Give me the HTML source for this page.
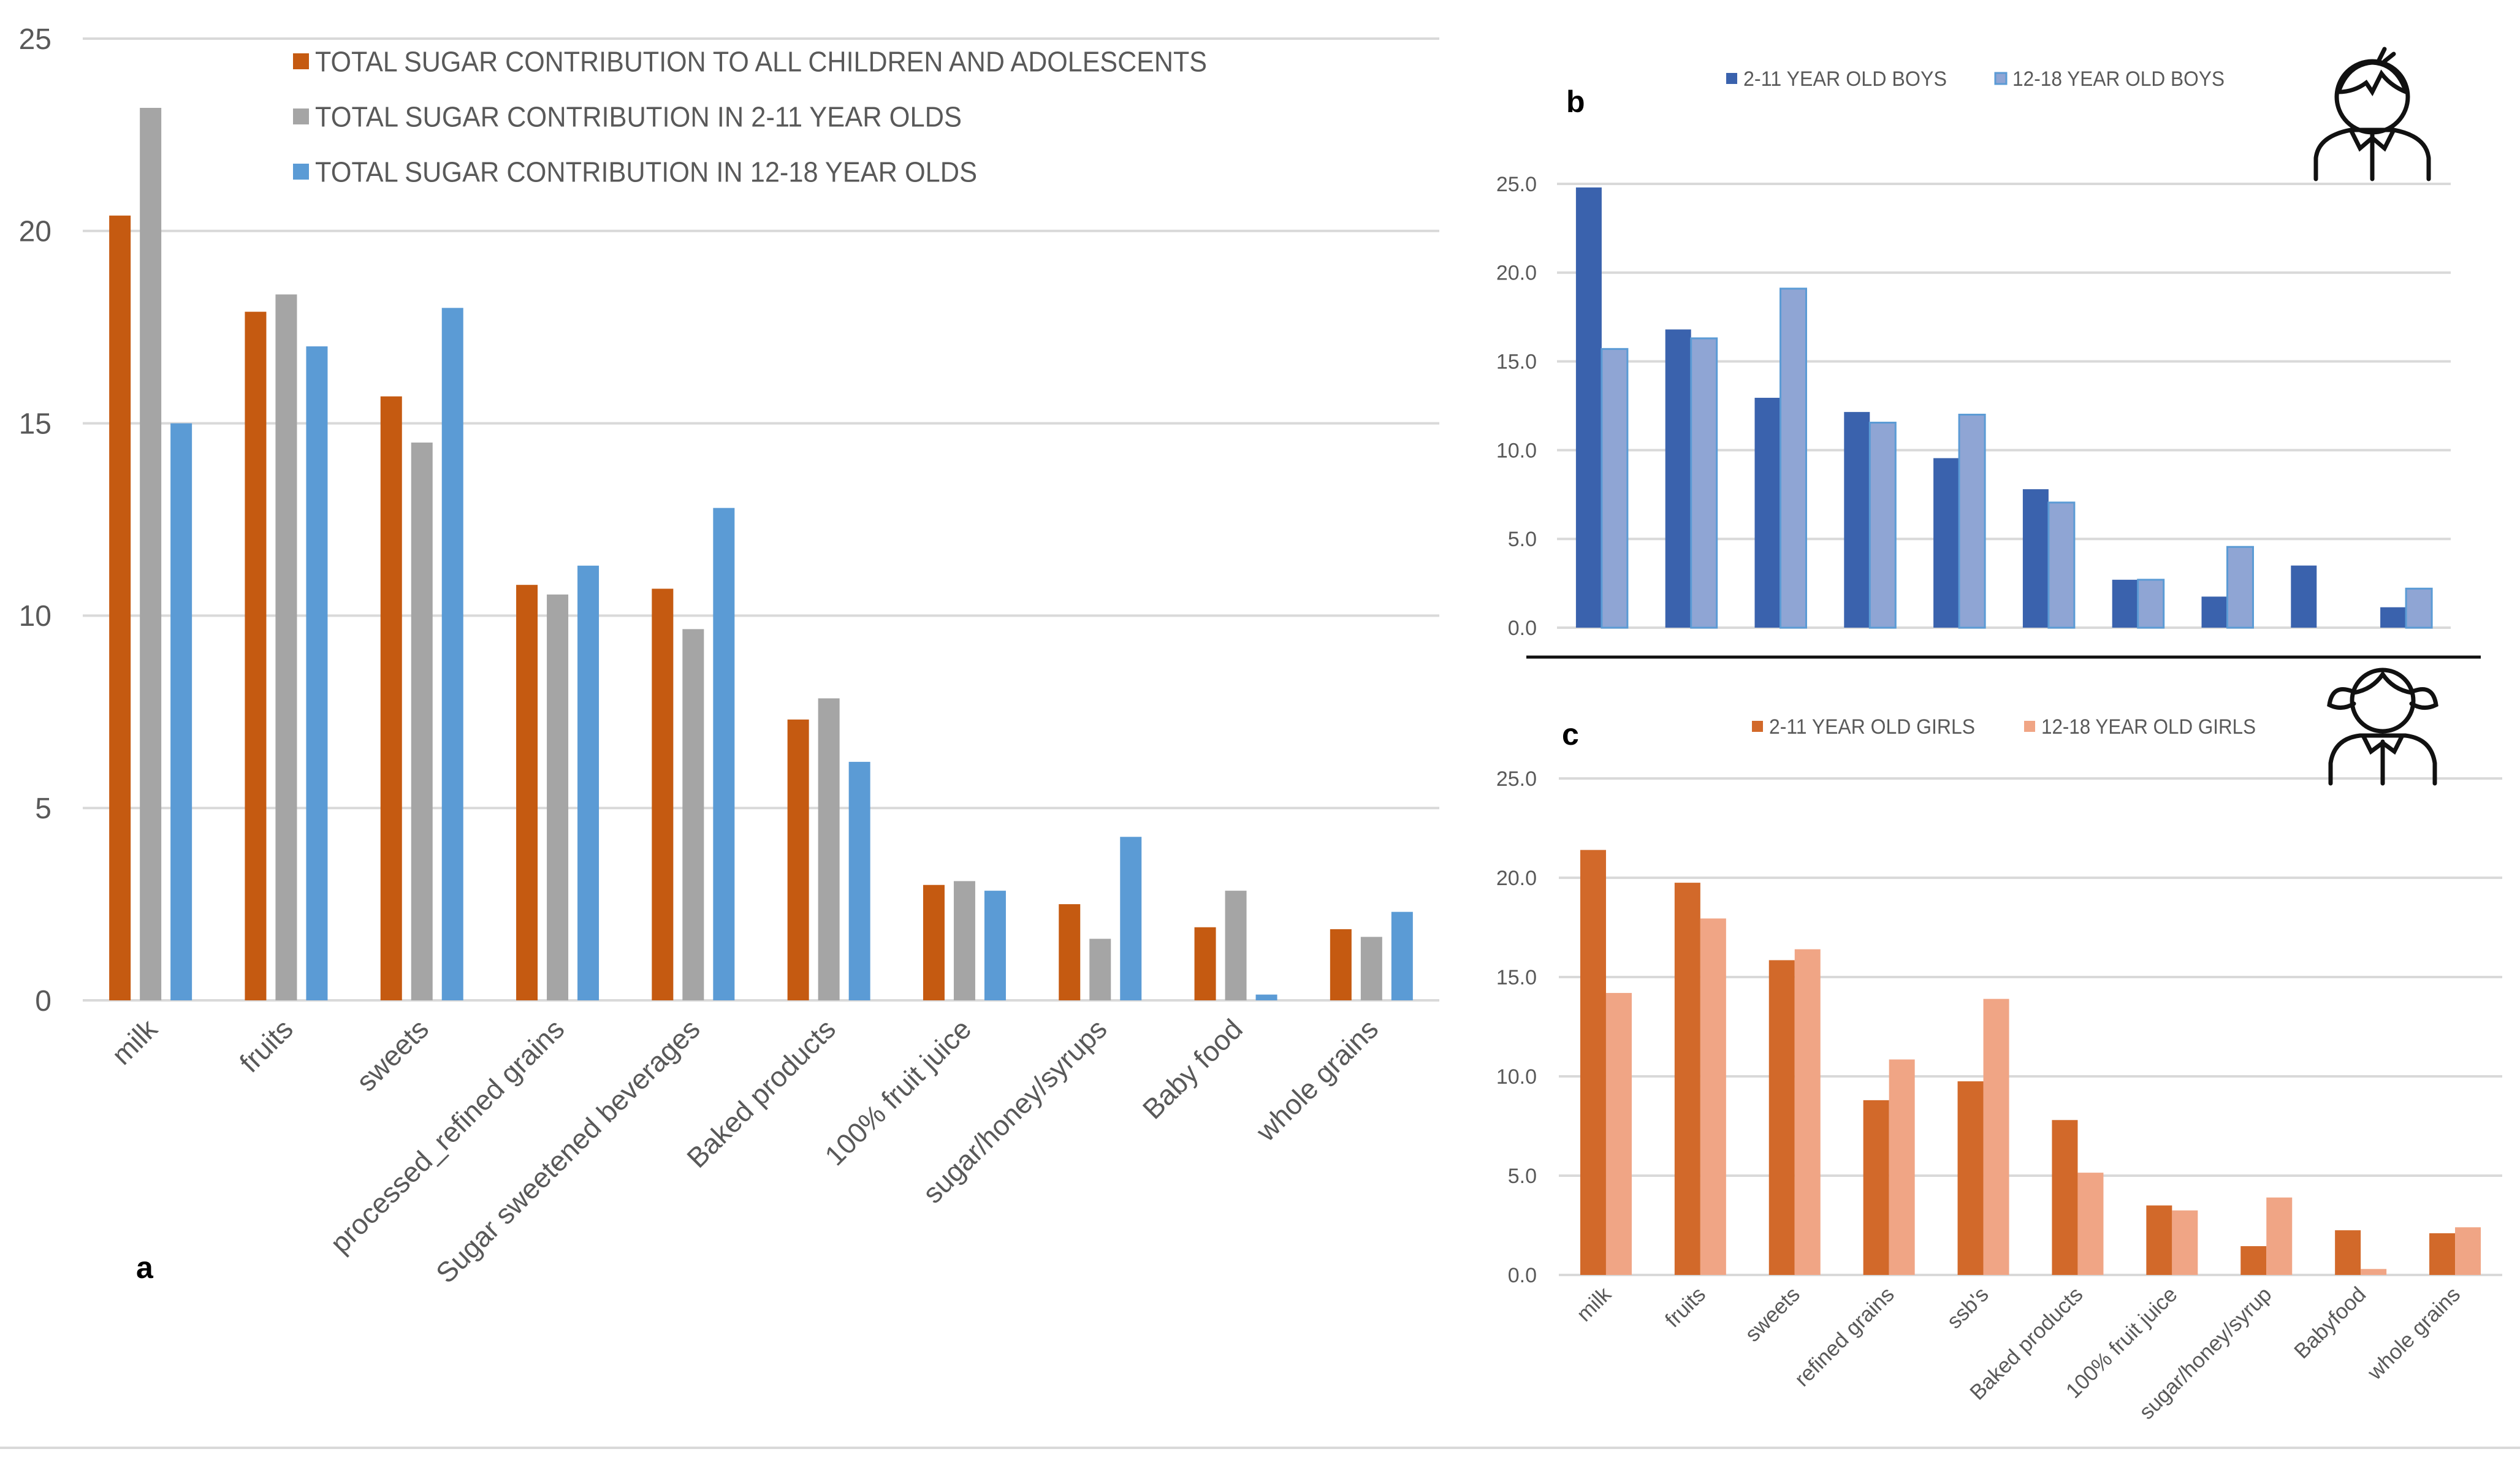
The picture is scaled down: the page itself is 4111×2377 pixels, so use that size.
<!DOCTYPE html>
<html><head><meta charset="utf-8"><style>
html,body{margin:0;padding:0;background:#fff;}
svg{display:block;font-family:"Liberation Sans",sans-serif;}
</style></head><body>
<svg id="chart" width="4111" height="2377" viewBox="0 0 4111 2377" xmlns="http://www.w3.org/2000/svg">
<rect width="4111" height="2377" fill="#fff"/>
<line x1="0" y1="2362" x2="4111" y2="2362" stroke="#d9d9d9" stroke-width="4"/>
<g id="pa"></g>
<g id="pb"></g>
<g id="pc"></g>
<line x1="2490" y1="1072" x2="4047" y2="1072" stroke="#111" stroke-width="5"/>
<g fill="none" stroke="#111" stroke-width="7" stroke-linecap="round">
<circle cx="3870" cy="158" r="58"/>
<path d="M3815 150 Q3830 105 3870 102 Q3910 104 3925 150 Q3900 140 3885 120 L3870 150 L3860 135 Q3840 150 3815 150"/>
<path d="M3880 100 L3890 80 M3890 100 L3905 88"/>
<path d="M3778 292 L3778 258 Q3782 222 3835 212 L3905 212 Q3958 222 3962 258 L3962 292"/>
<path d="M3870 218 L3870 292 M3835 212 L3850 242 L3870 225 L3890 242 L3905 212"/>
</g>
<g fill="none" stroke="#111" stroke-width="7" stroke-linecap="round">
<circle cx="3887" cy="1143" r="50"/>
<path d="M3840 1130 Q3870 1125 3887 1100 Q3904 1125 3934 1130"/>
<path d="M3838 1128 Q3805 1115 3800 1150 Q3820 1160 3840 1148 M3936 1128 Q3969 1115 3974 1150 Q3954 1160 3934 1148"/>
<path d="M3802 1278 L3802 1245 Q3808 1205 3850 1200 L3924 1200 Q3966 1205 3972 1245 L3972 1278"/>
<path d="M3887 1210 L3887 1278 M3855 1200 L3868 1226 L3887 1212 L3906 1226 L3919 1200"/>
</g>
</svg>
<script>
// Panel a data
const aCategories = ["milk","fruits","sweets","processed_refined grains","Sugar sweetened beverages","Baked products","100% fruit juice","sugar/honey/syrups","Baby food","whole grains"];
const aAll = [20.4,17.9,15.7,10.8,10.7,7.3,3.0,2.5,1.9,1.85];
const aYoung = [23.2,18.35,14.5,10.55,9.65,7.85,3.1,1.6,2.85,1.65];
const aTeen = [15.0,17.0,18.0,11.3,12.8,6.2,2.85,4.25,0.15,2.3];
const aTicks = ["0","5","10","15","20","25"];
const aTickValues = [0,5,10,15,20,25];
// Panel b data
const bCategories = ["milk","fruits","sweets","refined grains","ssb's","Baked products","100% fruit juice","sugar/honey/syrup","Babyfood","whole grains"];
const bYoung = [24.8,16.8,12.95,12.15,9.55,7.8,2.7,1.75,3.5,1.15];
const bTeen = [15.7,16.3,19.1,11.55,12.0,7.05,2.7,4.55,0,2.2];
const bTicks = ["0.0","5.0","10.0","15.0","20.0","25.0"];
const bTickValues = [0,5,10,15,20,25];
// Panel c data
const cCategories = ["milk","fruits","sweets","refined grains","ssb's","Baked products","100% fruit juice","sugar/honey/syrup","Babyfood","whole grains"];
const cYoung = [21.4,19.75,15.85,8.8,9.75,7.8,3.5,1.45,2.25,2.1];
const cTeen = [14.2,17.95,16.4,10.85,13.9,5.15,3.25,3.9,0.3,2.4];
const cTicks = ["0.0","5.0","10.0","15.0","20.0","25.0"];
const cTickValues = [0,5,10,15,20,25];

const NS="http://www.w3.org/2000/svg";
function mk(parent,tag,attrs,txt){const e=document.createElementNS(NS,tag);for(const k in attrs)e.setAttribute(k,attrs[k]);if(txt!==undefined)e.textContent=txt;parent.appendChild(e);return e;}

function drawPanel(g,cfg){
  const y=v=>cfg.y0-(v/cfg.max)*(cfg.y0-cfg.yTop);
  const cw=(cfg.x1-cfg.x0)/cfg.cats.length;
  cfg.tickValues.forEach((tv,i)=>{
    const gl=mk(g,"line",{x1:cfg.x0,x2:cfg.x1,y1:y(tv),y2:y(tv),stroke:"#d9d9d9","stroke-width":cfg.gw});
    
    
    const t=mk(g,"text",{x:cfg.tx,y:y(tv)+cfg.tfs*0.35,"text-anchor":"end","font-size":cfg.tfs,fill:"#595959"},cfg.ticks[i]);
    
    
  });
  const n=cfg.series.length;
  const groupW=n*cfg.bw+(n-1)*cfg.gap;
  cfg.cats.forEach((c,i)=>{
    const cx=cfg.x0+cw*(i+0.5);
    cfg.series.forEach((s,j)=>{
      const v=s.values[i];
      const bx=cx-groupW/2+j*(cfg.bw+cfg.gap);
      const r=mk(g,"rect",{x:bx,y:y(v),width:cfg.bw,height:Math.max(0,cfg.y0-y(v)),fill:s.color});
      if(s.stroke){r.setAttribute("stroke",s.stroke);r.setAttribute("stroke-width",3);}
      
      
    });
    if(cfg.showLabels){
      const lx=cx+cfg.lfs*0.3, ly=cfg.y0+cfg.loff;
      const t=mk(g,"text",{x:lx,y:ly,"text-anchor":"end","font-size":cfg.lfs,fill:"#595959",transform:`rotate(-45 ${lx} ${ly})`},c);
      
      
    }
  });
}

drawPanel(document.getElementById("pa"),{cats:aCategories,max:25,x0:135,x1:2348,y0:1632,yTop:63,gw:4,
  tickValues:aTickValues,ticks:aTicks,tx:84,tfs:48,bw:35,gap:15,showLabels:true,lfs:46,loff:50,
  series:[{key:"all",values:aAll,color:"#c55a11"},{key:"2-11",values:aYoung,color:"#a5a5a5"},{key:"12-18",values:aTeen,color:"#5b9bd5"}]});
drawPanel(document.getElementById("pb"),{cats:bCategories,max:25,x0:2540,x1:3998,y0:1024,yTop:300,gw:4,
  tickValues:bTickValues,ticks:bTicks,tx:2507,tfs:34,bw:42,gap:0,showLabels:false,
  series:[{key:"boys-2-11",values:bYoung,color:"#3a62ad"},{key:"boys-12-18",values:bTeen,color:"#8fa5d4",stroke:"#5b9bd5"}]});
drawPanel(document.getElementById("pc"),{cats:cCategories,max:25,x0:2543,x1:4082,y0:2080,yTop:1270,gw:4,
  tickValues:cTickValues,ticks:cTicks,tx:2507,tfs:34,bw:42,gap:0,showLabels:true,lfs:35,loff:34,
  series:[{key:"girls-2-11",values:cYoung,color:"#d2692a"},{key:"girls-12-18",values:cTeen,color:"#f0a585"}]});

const svg=document.getElementById("chart");
function legend(x,y,sz,color,text,len,fs,name,stroke){
  const g=mk(svg,"g",{});
  
  
  const r=mk(g,"rect",{x:x,y:y-sz/2,width:sz,height:sz,fill:color});
  if(stroke){r.setAttribute("stroke",stroke);r.setAttribute("stroke-width",3);}
  mk(g,"text",{x:x+sz+10,y:y+fs*0.36,"font-size":fs,fill:"#595959",textLength:len,lengthAdjust:"spacingAndGlyphs"},text);
}
legend(478,100,26,"#c55a11","TOTAL SUGAR CONTRIBUTION TO ALL CHILDREN AND ADOLESCENTS",1455,46,"legend-entry-all");
legend(478,190,26,"#a5a5a5","TOTAL SUGAR CONTRIBUTION IN 2-11 YEAR OLDS",1055,46,"legend-entry-2-11");
legend(478,280,26,"#5b9bd5","TOTAL SUGAR CONTRIBUTION IN 12-18 YEAR OLDS",1080,46,"legend-entry-12-18");
legend(2816,128,18,"#3a62ad","2-11 YEAR OLD BOYS",332,34,"legend-entry-boys-2-11");
legend(3255,128,18,"#8fa5d4","12-18 YEAR OLD BOYS",346,34,"legend-entry-boys-12-18","#5b9bd5");
legend(2858,1185,18,"#d2692a","2-11 YEAR OLD GIRLS",336,34,"legend-entry-girls-2-11");
legend(3302,1185,18,"#f0a585","12-18 YEAR OLD GIRLS",350,34,"legend-entry-girls-12-18");

function label(x,y,t,name){const e=mk(svg,"text",{x:x,y:y,"font-size":50,"font-weight":"bold",fill:"#000"},t);
  
  }
label(222,2085,"a","panel-a-label");
label(2555,183,"b","panel-b-label");
label(2548,1215,"c","panel-c-label");
</script>
</body></html>
